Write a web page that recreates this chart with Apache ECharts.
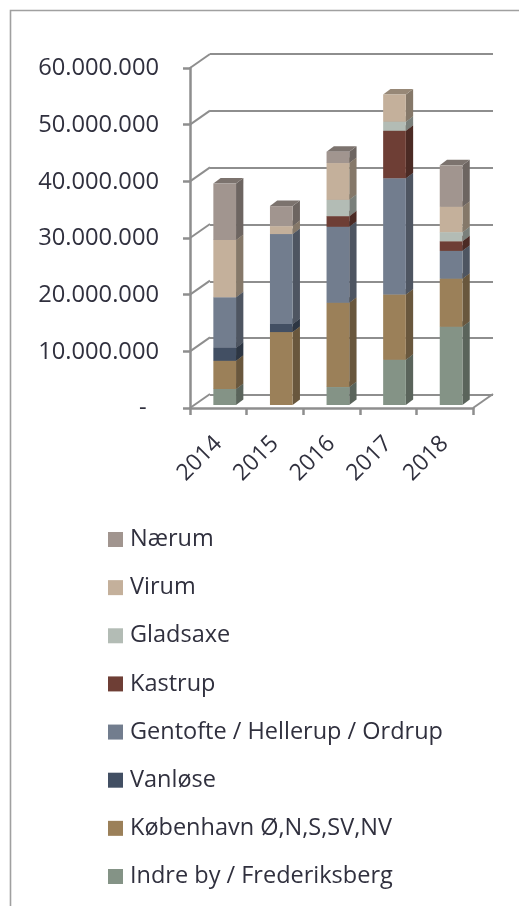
<!DOCTYPE html>
<html>
<head>
<meta charset="utf-8">
<style>html,body{margin:0;padding:0;background:#fff}#c{width:519px;height:906px}</style>
<script src="https://cdn.jsdelivr.net/npm/echarts@6/dist/echarts.min.js"></script>
</head>
<body>
<div id="c"></div>
<script>
const years = ['2014','2015','2016','2017','2018'];
const indreBy    = [2820000, 0, 3170000, 8000000, 13800000];
const koebenhavn = [4980000, 12870000, 14880000, 11500000, 8500000];
const vanloese   = [2300000, 1420000, 0, 0, 0];
const gentofte   = [8900000, 15870000, 13400000, 20500000, 4900000];
const kastrup    = [0, 0, 1880000, 8400000, 1700000];
const gladsaxe   = [0, 0, 2870000, 1600000, 1600000];
const virum      = [10100000, 1410000, 6500000, 4800000, 4500000];
const naerum     = [10000000, 3530000, 2000000, 0, 7300000];

const seriesNames = ['Indre by / Frederiksberg','København Ø,N,S,SV,NV','Vanløse','Gentofte / Hellerup / Ordrup','Kastrup','Gladsaxe','Virum','Nærum'];
const seriesValues = [indreBy, koebenhavn, vanloese, gentofte, kastrup, gladsaxe, virum, naerum];
const seriesColors = ['#849386','#9b8059','#424f63','#727d8e','#6e3e35','#b3bcb5','#c4b09b','#a1958f'];
const yTicks = [0,10000000,20000000,30000000,40000000,50000000,60000000];

const FONT = 'Open Sans';
const TEXT = '#30303e';
const GRID = '#8e8e8e';
const DX = 7.3, DY = 5.5, BAR_W = 22.7, BAR_SHIFT = 6.4, BASE_SHIFT = -3;
const WALL_DX = 20, WALL_DY = -14;

function stackBase(si, i){ let s = 0; for(let k=0;k<si;k++) s += seriesValues[k][i]; return s; }
function shade(hex, f){
  const n = parseInt(hex.slice(1),16);
  return 'rgb('+[(n>>16)&255,(n>>8)&255,n&255].map(c=>Math.round(c*f)).join(',')+')';
}

const barSeries = seriesNames.map((name, si) => ({
  type:'custom', name, xAxisIndex:0, yAxisIndex:0, z:5,
  coordinateSystem:'cartesian2d',
  itemStyle:{color:seriesColors[si]},
  data: years.map((y,i)=>[i, seriesValues[si][i], stackBase(si,i)]),
  renderItem(params, api){
    const v = api.value(1);
    if(!v) return null;
    const b = api.value(2);
    const p0 = api.coord([api.value(0), b]);
    const p1 = api.coord([api.value(0), b+v]);
    const x0 = p0[0]-BAR_W/2+BAR_SHIFT, x1 = x0+BAR_W;
    const yb = p0[1]+BASE_SHIFT, yt = p1[1]+BASE_SHIFT;
    const c = seriesColors[si];
    const side = shade(c,0.68), top = shade(c,0.77);
    return {type:'group',children:[
      {type:'polygon',shape:{points:[[x1,yb],[x1+DX,yb-DY],[x1+DX,yt-DY],[x1,yt]]},style:{fill:side}},
      {type:'polygon',shape:{points:[[x0,yt],[x1,yt],[x1+DX,yt-DY],[x0+DX,yt-DY]]},style:{fill:top}},
      {type:'rect',shape:{x:x0,y:yt,width:BAR_W,height:yb-yt},style:{fill:c}}
    ]};
  }
}));

const connectors = {
  type:'custom', name:'walls', xAxisIndex:0, yAxisIndex:0, z:1, silent:true,
  data: yTicks.map(v=>[0,v]),
  renderItem(params, api){
    const p = api.coord([0, api.value(1)]);
    const x = params.coordSys.x;
    const children = [{type:'line',shape:{x1:x,y1:p[1],x2:x+WALL_DX,y2:p[1]+WALL_DY},style:{stroke:GRID,lineWidth:2}}];
    if(api.value(1)===0){
      const xr = x+params.coordSys.width;
      children.push({type:'line',shape:{x1:xr,y1:p[1],x2:xr+WALL_DX,y2:p[1]+WALL_DY},style:{stroke:GRID,lineWidth:2}});
    }
    return {type:'group',children};
  }
};

const chart = echarts.init(document.getElementById('c'),null,{renderer:'canvas'});
chart.setOption({
  animation:false,
  backgroundColor:'#fff',
  textStyle:{fontFamily:FONT},
  graphic:[{type:'polyline',z:0,shape:{points:[[10.5,906],[10.5,10.5],[519,10.5]]},style:{stroke:'#a0a0a0',fill:null,lineWidth:1.6}}],
  grid:[
    {left:190,right:46,top:68,bottom:498},
    {left:210,right:26,top:54,bottom:511}
  ],
  xAxis:[
    {type:'category',gridIndex:0,data:years,
     axisLine:{lineStyle:{color:GRID,width:2.5}},
     axisTick:{show:true,length:7,lineStyle:{color:GRID,width:2.5}},
     axisLabel:{rotate:45,fontFamily:FONT,fontSize:23,color:TEXT,margin:32}},
    {type:'category',gridIndex:1,data:years,show:false}
  ],
  yAxis:[
    {type:'value',gridIndex:0,min:0,max:60000000,interval:10000000,
     axisLine:{show:true,lineStyle:{color:GRID,width:2.5}},
     axisTick:{show:true,length:7,lineStyle:{color:GRID,width:2.5}},
     splitLine:{show:false},
     axisLabel:{fontFamily:FONT,fontSize:23.7,color:TEXT,margin:31,verticalAlign:'top',lineHeight:1,
       formatter:v=> v===0 ? '-\u00a0\u00a0' : String(v).replace(/\B(?=(\d{3})+$)/g,'.')}},
    {type:'value',gridIndex:1,min:0,max:60000000,interval:10000000,
     axisLine:{show:false},axisTick:{show:false},axisLabel:{show:false},
     splitLine:{show:true,lineStyle:{color:GRID,width:2}}}
  ],
  legend:{
    orient:'vertical',left:108,top:527.5,padding:0,
    icon:'rect',itemWidth:15,itemHeight:15,itemGap:24.14,
    selectedMode:false,
    data:seriesNames.slice().reverse(),
    textStyle:{fontFamily:FONT,fontSize:23.5,color:TEXT,lineHeight:24,padding:[0,0,0,2]}
  },
  series:[connectors].concat(barSeries)
});
</script>
</body>
</html>
